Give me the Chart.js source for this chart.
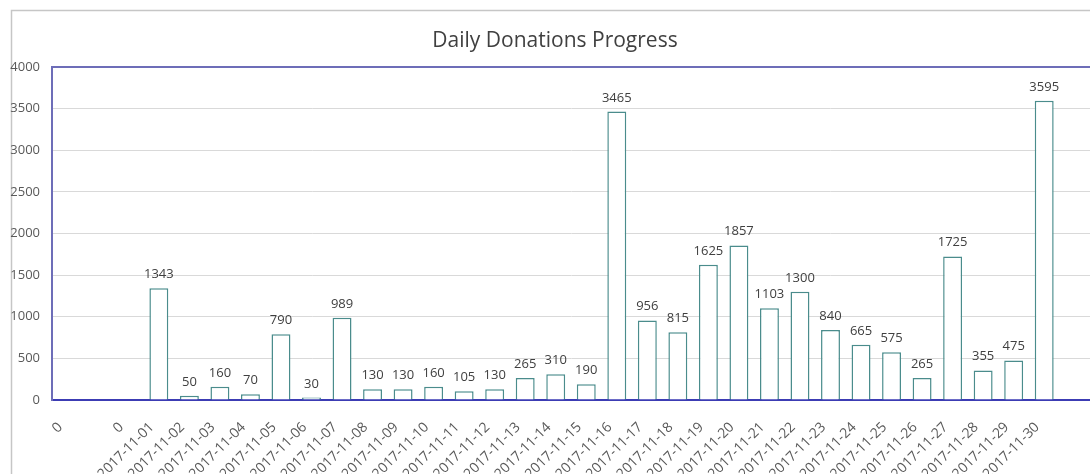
<!DOCTYPE html>
<html>
<head>
<meta charset="utf-8">
<script src="https://cdn.jsdelivr.net/npm/chart.js@4"></script>
<style>
  html, body { margin: 0; padding: 0; background: #fff; overflow: hidden; }
  #wrap { position: absolute; left: 0; top: 0; width: 1090px; height: 474px; }
</style>
</head>
<body>
<div id="wrap"><canvas id="myChart"></canvas></div>
<script>
// categories on the x axis (first three and last one are empty slots in the sheet)
var leadLabels = ['0', '', '0']
var dates = ['2017-11-01', '2017-11-02', '2017-11-03', '2017-11-04', '2017-11-05', '2017-11-06',
	'2017-11-07', '2017-11-08', '2017-11-09', '2017-11-10', '2017-11-11', '2017-11-12',
	'2017-11-13', '2017-11-14', '2017-11-15', '2017-11-16', '2017-11-17', '2017-11-18',
	'2017-11-19', '2017-11-20', '2017-11-21', '2017-11-22', '2017-11-23', '2017-11-24',
	'2017-11-25', '2017-11-26', '2017-11-27', '2017-11-28', '2017-11-29', '2017-11-30']
var trailLabels = ['']
var donations = [1343, 50, 160, 70, 790, 30, 989, 130, 130, 160, 105, 130, 265, 310, 190,
	3465, 956, 815, 1625, 1857, 1103, 1300, 840, 665, 575, 265, 1725, 355, 475, 3595]
var titleText = 'Daily Donations Progress'

var labels = leadLabels.concat(dates, trailLabels)
var values = leadLabels.map(function () { return null })
	.concat(donations, trailLabels.map(function () { return null }))

var frameColor = '#6d6db8'
var textColor = '#595959'

// outer chart frame (light gray) and the title, centred on the full frame
var outerFrame = {
	id: 'outerFrame',
	beforeDraw: function (chart) {
		var c = chart.ctx
		c.save()
		c.strokeStyle = '#c6c6c6'
		c.lineWidth = 1.5
		c.strokeRect(11.5, 10.5, chart.width + 20, chart.height + 20)
		c.font = '21px "Open Sans"'
		c.fillStyle = '#404040'
		c.textAlign = 'center'
		c.textBaseline = 'alphabetic'
		c.fillText(titleText, 555, 46.5)
		c.restore()
	}
}

// value labels above bars
var valueLabels = {
	id: 'valueLabels',
	afterDatasetsDraw: function (chart) {
		var c = chart.ctx
		var meta = chart.getDatasetMeta(0)
		c.save()
		c.font = '13px "Open Sans"'
		c.fillStyle = '#404040'
		c.textAlign = 'center'
		c.textBaseline = 'alphabetic'
		meta.data.forEach(function (bar, i) {
			var v = values[i]
			if (v === null) return
			c.fillText(String(v), bar.x, bar.y - 10)
		})
		c.restore()
	}
}

var ctx = document.getElementById('myChart')
var chart = new Chart(ctx, {
	type: 'bar',
	data: {
		labels: labels,
		datasets: [{
			data: values,
			backgroundColor: '#ffffff',
			borderColor: '#4a8c8c',
			borderWidth: 1.5,
			categoryPercentage: 1,
			barPercentage: 0.62,
		}]
	},
	options: {
		responsive: true,
		maintainAspectRatio: false,
		animation: false,
		layout: { padding: { left: 0, right: 0, top: 67, bottom: 0 } },
		plugins: {
			legend: { display: false },
			tooltip: { enabled: false },
			title: { display: false },
		},
		scales: {
			x: {
				grid: { display: false, drawTicks: false },
				border: { color: '#3c3cb4', width: 2 },
				ticks: {
					autoSkip: false,
					minRotation: 45,
					maxRotation: 45,
					padding: 19,
					labelOffset: -7,
					color: textColor,
					font: { family: '"Open Sans"', size: 14 },
				},
				afterFit: function (s) {
					s.height = 74
					s.paddingLeft = 0
					s.paddingRight = 0
				},
			},
			y: {
				min: 0,
				max: 4000,
				ticks: {
					stepSize: 500,
					padding: 12,
					color: textColor,
					font: { family: '"Open Sans"', size: 13 },
					callback: function (v) { return String(v) },
				},
				grid: {
					drawTicks: false,
					color: function (c) { return c.tick && c.tick.value === 4000 ? frameColor : '#d9d9d9' },
					lineWidth: function (c) { return c.tick && c.tick.value === 4000 ? 2 : 1 },
				},
				border: { color: frameColor, width: 2 },
				afterFit: function (s) {
					s.width = 52
					s.paddingTop = 0
					s.paddingBottom = 0
				},
			},
		},
	},
	plugins: [outerFrame, valueLabels],
})
</script>
</body>
</html>
